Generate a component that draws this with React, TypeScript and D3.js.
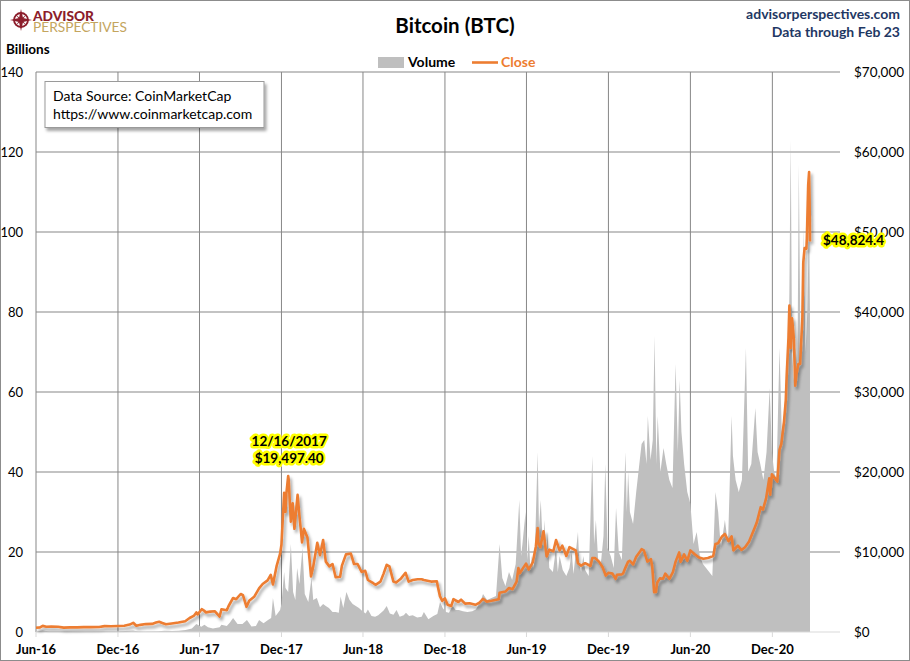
import * as d3 from "d3";

// Bitcoin close (USD) and 24h volume (billions)
const closeSeries: [string, number][] = [
  ["2016-06-01", 537], ["2016-06-10", 575], ["2016-06-16", 766], ["2016-06-24", 665], ["2016-07-05", 670],
  ["2016-07-20", 665], ["2016-08-02", 545], ["2016-08-16", 580], ["2016-09-01", 575], ["2016-09-15", 608],
  ["2016-10-01", 615], ["2016-10-20", 630], ["2016-11-01", 730], ["2016-11-15", 712], ["2016-12-01", 755],
  ["2016-12-15", 780], ["2016-12-27", 930],
  ["2017-01-04", 1150], ["2017-01-11", 780], ["2017-01-20", 895], ["2017-02-01", 990], ["2017-02-15", 1010],
  ["2017-02-24", 1180], ["2017-03-03", 1280], ["2017-03-10", 1120], ["2017-03-18", 970], ["2017-03-31", 1070],
  ["2017-04-15", 1180], ["2017-04-30", 1350], ["2017-05-10", 1750], ["2017-05-20", 2050], ["2017-05-25", 2450],
  ["2017-05-28", 2200], ["2017-06-06", 2850], ["2017-06-12", 2650], ["2017-06-15", 2450], ["2017-06-25", 2550],
  ["2017-07-05", 2600], ["2017-07-16", 1930], ["2017-07-20", 2850], ["2017-08-01", 2720], ["2017-08-05", 3250],
  ["2017-08-15", 4250], ["2017-08-22", 4100], ["2017-09-01", 4750], ["2017-09-06", 4600], ["2017-09-14", 3150],
  ["2017-09-20", 3900], ["2017-10-01", 4400], ["2017-10-12", 5450], ["2017-10-20", 6000], ["2017-10-31", 6450],
  ["2017-11-07", 7150], ["2017-11-12", 5950], ["2017-11-20", 8200], ["2017-11-28", 9800], ["2017-12-01", 10900],
  ["2017-12-07", 17400], ["2017-12-10", 15000], ["2017-12-12", 17300], ["2017-12-16", 19497.4], ["2017-12-17", 19140],
  ["2017-12-22", 13800], ["2017-12-26", 16100], ["2017-12-30", 12900],
  ["2018-01-06", 17150], ["2018-01-10", 14600], ["2018-01-16", 11200], ["2018-01-20", 12900], ["2018-01-28", 11800],
  ["2018-02-02", 8900], ["2018-02-05", 6950], ["2018-02-10", 8200], ["2018-02-19", 11150], ["2018-02-25", 9600],
  ["2018-03-04", 11500], ["2018-03-10", 8800], ["2018-03-18", 8200], ["2018-03-25", 8500], ["2018-04-01", 6850],
  ["2018-04-11", 6900], ["2018-04-15", 8300], ["2018-04-24", 9700], ["2018-05-05", 9800], ["2018-05-12", 8500],
  ["2018-05-20", 8500], ["2018-05-29", 7500], ["2018-06-06", 7650], ["2018-06-12", 6500], ["2018-06-24", 6100],
  ["2018-06-29", 5900], ["2018-07-10", 6300], ["2018-07-17", 7300], ["2018-07-24", 8400], ["2018-07-30", 8200],
  ["2018-08-08", 6300], ["2018-08-14", 6200], ["2018-08-25", 6700], ["2018-09-04", 7400], ["2018-09-11", 6300],
  ["2018-09-20", 6500], ["2018-10-01", 6600], ["2018-10-10", 6600], ["2018-10-15", 6500], ["2018-10-31", 6300],
  ["2018-11-13", 6350], ["2018-11-15", 5700], ["2018-11-20", 4450], ["2018-11-25", 3900], ["2018-12-01", 4200],
  ["2018-12-07", 3400], ["2018-12-15", 3240], ["2018-12-20", 4100], ["2018-12-31", 3750],
  ["2019-01-06", 4050], ["2019-01-15", 3550], ["2019-01-25", 3600], ["2019-02-07", 3400], ["2019-02-15", 3620],
  ["2019-02-24", 4150], ["2019-03-04", 3800], ["2019-03-15", 3900], ["2019-03-31", 4100], ["2019-04-02", 4900],
  ["2019-04-15", 5050], ["2019-04-23", 5500], ["2019-05-01", 5350], ["2019-05-10", 6300], ["2019-05-14", 8000],
  ["2019-05-17", 7350], ["2019-05-25", 8050], ["2019-05-31", 8550], ["2019-06-06", 7800], ["2019-06-15", 8700],
  ["2019-06-22", 10700], ["2019-06-26", 13000], ["2019-06-27", 11200], ["2019-07-02", 10600], ["2019-07-09", 12600],
  ["2019-07-16", 9450], ["2019-07-22", 10300], ["2019-07-31", 10100], ["2019-08-06", 11500], ["2019-08-14", 10200],
  ["2019-08-20", 10800], ["2019-08-29", 9500], ["2019-09-05", 10600], ["2019-09-19", 10200], ["2019-09-24", 8600],
  ["2019-10-01", 8300], ["2019-10-10", 8600], ["2019-10-22", 8250], ["2019-10-26", 9250], ["2019-11-01", 9250],
  ["2019-11-10", 8800], ["2019-11-18", 8100], ["2019-11-25", 7050], ["2019-12-01", 7400], ["2019-12-10", 7300],
  ["2019-12-17", 6650], ["2019-12-20", 7150], ["2019-12-31", 7200],
  ["2020-01-03", 7350], ["2020-01-08", 8050], ["2020-01-14", 8800], ["2020-01-18", 8900], ["2020-01-25", 8450],
  ["2020-02-01", 9400], ["2020-02-10", 10100], ["2020-02-13", 10350], ["2020-02-18", 10200], ["2020-02-26", 8800],
  ["2020-03-05", 9100], ["2020-03-08", 8050], ["2020-03-12", 4970], ["2020-03-16", 5000], ["2020-03-19", 6200],
  ["2020-03-25", 6700], ["2020-04-01", 6650], ["2020-04-06", 7300], ["2020-04-15", 6650], ["2020-04-23", 7500],
  ["2020-04-29", 8800], ["2020-05-07", 9950], ["2020-05-10", 8750], ["2020-05-18", 9700], ["2020-05-25", 8900],
  ["2020-06-01", 10200], ["2020-06-10", 9750], ["2020-06-20", 9300], ["2020-06-30", 9150], ["2020-07-10", 9250],
  ["2020-07-22", 9500], ["2020-07-27", 11000], ["2020-08-02", 11100], ["2020-08-10", 11900], ["2020-08-17", 12250],
  ["2020-08-25", 11350], ["2020-09-01", 11950], ["2020-09-05", 10200], ["2020-09-15", 10800], ["2020-09-23", 10250],
  ["2020-10-01", 10600], ["2020-10-10", 11300], ["2020-10-21", 12800], ["2020-10-27", 13650], ["2020-11-05", 15600],
  ["2020-11-10", 15300], ["2020-11-17", 16700], ["2020-11-24", 19200], ["2020-11-26", 17150], ["2020-11-30", 19700],
  ["2020-12-07", 19200], ["2020-12-12", 18800], ["2020-12-17", 22800], ["2020-12-21", 23500], ["2020-12-27", 26300],
  ["2020-12-31", 29000],
  ["2021-01-02", 32100], ["2021-01-06", 36800], ["2021-01-08", 40800], ["2021-01-11", 35500], ["2021-01-14", 39200],
  ["2021-01-18", 36600], ["2021-01-21", 30800], ["2021-01-24", 32300], ["2021-01-28", 33500], ["2021-02-01", 33500],
  ["2021-02-06", 39300], ["2021-02-08", 46200], ["2021-02-11", 48000], ["2021-02-15", 47900], ["2021-02-16", 49200],
  ["2021-02-19", 55900], ["2021-02-21", 57500], ["2021-02-22", 54200], ["2021-02-23", 48824.4]
];

const volumeSeries: [string, number][] = [
  ["2016-06-01", 0.1], ["2016-06-16", 0.35], ["2016-07-01", 0.12], ["2016-08-01", 0.1], ["2016-09-01", 0.08],
  ["2016-10-01", 0.07], ["2016-11-01", 0.1], ["2016-12-01", 0.1],
  ["2017-01-04", 0.35], ["2017-01-15", 0.15], ["2017-02-01", 0.12], ["2017-03-01", 0.2], ["2017-03-15", 0.3],
  ["2017-04-01", 0.25], ["2017-04-15", 0.3], ["2017-05-01", 0.5], ["2017-05-15", 0.9], ["2017-05-25", 2.0],
  ["2017-06-05", 1.3], ["2017-06-12", 1.8], ["2017-06-20", 1.2], ["2017-07-01", 0.9], ["2017-07-16", 1.2],
  ["2017-07-20", 1.8], ["2017-08-01", 1.5], ["2017-08-08", 2.4], ["2017-08-15", 3.5], ["2017-08-25", 2.0],
  ["2017-09-05", 2.0], ["2017-09-15", 3.0], ["2017-09-25", 1.4], ["2017-10-05", 1.5], ["2017-10-12", 3.0],
  ["2017-10-22", 2.2], ["2017-11-01", 3.0], ["2017-11-08", 3.5], ["2017-11-12", 8.5], ["2017-11-18", 4.0],
  ["2017-11-28", 5.5], ["2017-12-01", 7.0], ["2017-12-07", 15.0], ["2017-12-10", 11.0], ["2017-12-16", 10.0],
  ["2017-12-22", 22.0], ["2017-12-27", 10.0],
  ["2018-01-01", 8.0], ["2018-01-05", 16.0], ["2018-01-10", 12.0], ["2018-01-17", 21.0], ["2018-01-22", 9.5],
  ["2018-01-30", 7.5], ["2018-02-06", 13.5], ["2018-02-10", 8.0], ["2018-02-18", 8.5], ["2018-02-25", 6.2],
  ["2018-03-04", 7.0], ["2018-03-10", 6.5], ["2018-03-17", 6.0], ["2018-03-25", 5.0], ["2018-04-01", 5.0],
  ["2018-04-08", 4.8], ["2018-04-12", 8.9], ["2018-04-18", 6.0], ["2018-04-25", 10.0], ["2018-05-02", 8.0],
  ["2018-05-09", 7.0], ["2018-05-16", 6.5], ["2018-05-23", 6.0], ["2018-05-31", 5.2], ["2018-06-07", 4.6],
  ["2018-06-12", 5.6], ["2018-06-20", 4.0], ["2018-06-28", 3.8], ["2018-07-05", 4.2], ["2018-07-17", 5.4],
  ["2018-07-24", 6.5], ["2018-07-31", 4.6], ["2018-08-08", 4.3], ["2018-08-15", 5.5], ["2018-08-22", 3.8],
  ["2018-08-31", 4.2], ["2018-09-05", 4.8], ["2018-09-12", 4.0], ["2018-09-20", 4.2], ["2018-09-30", 3.6],
  ["2018-10-10", 3.8], ["2018-10-15", 5.0], ["2018-10-25", 3.2], ["2018-11-05", 4.0], ["2018-11-14", 4.5],
  ["2018-11-20", 7.5], ["2018-11-26", 6.0], ["2018-12-03", 5.0], ["2018-12-10", 4.8], ["2018-12-18", 6.5],
  ["2018-12-25", 5.5],
  ["2019-01-01", 5.5], ["2019-01-10", 5.2], ["2019-01-20", 5.0], ["2019-01-31", 5.2], ["2019-02-08", 5.6],
  ["2019-02-18", 7.5], ["2019-02-24", 9.5], ["2019-03-05", 8.0], ["2019-03-15", 8.5], ["2019-03-25", 9.0],
  ["2019-04-02", 22.0], ["2019-04-08", 13.5], ["2019-04-15", 11.5], ["2019-04-23", 15.0], ["2019-04-30", 13.0],
  ["2019-05-08", 17.0], ["2019-05-13", 27.0], ["2019-05-16", 33.0], ["2019-05-20", 19.0], ["2019-05-23", 22.0],
  ["2019-05-30", 30.0], ["2019-06-03", 18.0], ["2019-06-06", 24.0], ["2019-06-10", 15.5], ["2019-06-13", 19.0],
  ["2019-06-17", 16.0], ["2019-06-20", 21.0], ["2019-06-26", 45.0], ["2019-06-29", 26.0], ["2019-07-03", 33.0],
  ["2019-07-08", 20.0], ["2019-07-11", 28.0], ["2019-07-15", 19.0], ["2019-07-18", 25.0], ["2019-07-22", 16.0],
  ["2019-07-30", 15.0], ["2019-08-06", 21.0], ["2019-08-10", 15.0], ["2019-08-14", 19.0], ["2019-08-21", 15.5],
  ["2019-08-29", 14.0], ["2019-09-05", 16.0], ["2019-09-10", 20.0], ["2019-09-14", 14.5], ["2019-09-24", 25.0],
  ["2019-09-27", 17.0], ["2019-10-01", 15.0], ["2019-10-06", 19.0], ["2019-10-10", 15.5], ["2019-10-18", 14.0],
  ["2019-10-26", 44.0], ["2019-10-30", 22.0], ["2019-11-03", 28.0], ["2019-11-08", 18.0], ["2019-11-14", 17.0],
  ["2019-11-20", 24.0], ["2019-11-24", 42.0], ["2019-11-29", 21.0], ["2019-12-06", 19.0], ["2019-12-13", 16.0],
  ["2019-12-18", 31.0], ["2019-12-24", 20.0], ["2019-12-31", 18.0],
  ["2020-01-03", 28.0], ["2020-01-08", 45.0], ["2020-01-11", 30.0], ["2020-01-14", 40.0], ["2020-01-18", 30.0],
  ["2020-01-25", 27.0], ["2020-02-01", 35.0], ["2020-02-08", 42.0], ["2020-02-13", 47.0], ["2020-02-19", 48.0],
  ["2020-02-24", 42.0], ["2020-02-27", 54.0], ["2020-03-04", 43.0], ["2020-03-09", 48.0], ["2020-03-13", 74.0],
  ["2020-03-17", 42.0], ["2020-03-20", 54.0], ["2020-03-26", 40.0], ["2020-04-02", 46.0], ["2020-04-08", 42.0],
  ["2020-04-15", 38.0], ["2020-04-22", 36.0], ["2020-04-29", 67.0], ["2020-05-04", 45.0], ["2020-05-08", 63.0],
  ["2020-05-12", 50.0], ["2020-05-18", 42.0], ["2020-05-25", 35.0], ["2020-06-01", 32.0], ["2020-06-08", 22.0],
  ["2020-06-15", 25.0], ["2020-06-22", 19.0], ["2020-06-29", 17.0], ["2020-07-06", 16.0], ["2020-07-13", 15.0],
  ["2020-07-20", 14.0], ["2020-07-27", 35.0], ["2020-08-02", 30.0], ["2020-08-08", 21.0], ["2020-08-17", 28.0],
  ["2020-08-24", 22.0], ["2020-09-01", 54.0], ["2020-09-04", 44.0], ["2020-09-10", 38.0], ["2020-09-17", 35.0],
  ["2020-09-24", 38.0], ["2020-10-03", 71.0], ["2020-10-08", 40.0], ["2020-10-15", 42.0], ["2020-10-24", 56.0],
  ["2020-10-29", 45.0], ["2020-11-04", 42.0], ["2020-11-11", 38.0], ["2020-11-18", 45.0], ["2020-11-25", 61.0],
  ["2020-11-30", 45.0], ["2020-12-05", 40.0], ["2020-12-10", 38.0], ["2020-12-17", 71.0], ["2020-12-22", 50.0],
  ["2020-12-28", 55.0],
  ["2021-01-02", 67.0], ["2021-01-06", 70.0], ["2021-01-08", 85.0], ["2021-01-11", 123.0], ["2021-01-14", 70.0],
  ["2021-01-18", 63.0], ["2021-01-22", 71.0], ["2021-01-26", 65.0], ["2021-01-29", 117.0], ["2021-02-02", 68.0],
  ["2021-02-06", 72.0], ["2021-02-09", 101.0], ["2021-02-13", 70.0], ["2021-02-17", 80.0], ["2021-02-21", 104.0],
  ["2021-02-23", 80.0]
];

const leftTicks = [0, 20, 40, 60, 80, 100, 120, 140];
const rightTicks = [0, 10000, 20000, 30000, 40000, 50000, 60000, 70000];
const xTickLabels = ["Jun-16", "Dec-16", "Jun-17", "Dec-17", "Jun-18", "Dec-18", "Jun-19", "Dec-19", "Jun-20", "Dec-20"];
const peakDate = "2017-12-16";

const W = 910;
const H = 661;
const plot = { left: 36, right: 840, top: 72, bottom: 632 };
const FONT = "Lato, 'Open Sans', sans-serif";
const ORANGE = "#ED7D31";
const GRID = "#878787";

const parse = d3.timeParse("%Y-%m-%d");
const closeData = closeSeries.map(([d, v]) => ({ date: parse(d) as Date, value: v }));
const volumeData = volumeSeries.map(([d, v]) => ({ date: parse(d) as Date, value: v }));

const x = d3
  .scaleTime()
  .domain([parse("2016-06-01") as Date, parse("2021-05-01") as Date])
  .range([plot.left, plot.right]);
const yVol = d3.scaleLinear().domain([0, 140]).range([plot.bottom, plot.top]);
const yPrice = d3.scaleLinear().domain([0, 70000]).range([plot.bottom, plot.top]);

const xTickDates = xTickLabels.map((_, i) => d3.timeMonth.offset(parse("2016-06-01") as Date, i * 6));

const fmtDollar = (v: number) => `$${d3.format(",")(v)}`;

export default function App() {
  const volumeArea = d3
    .area<{ date: Date; value: number }>()
    .x((d) => x(d.date))
    .y0(yVol(0))
    .y1((d) => yVol(d.value))(volumeData);

  const closeLine = d3
    .line<{ date: Date; value: number }>()
    .x((d) => x(d.date))
    .y((d) => yPrice(d.value))(closeData);

  const peak = closeData.find((d) => d3.timeFormat("%Y-%m-%d")(d.date) === peakDate) ?? closeData[0];
  const last = closeData[closeData.length - 1];

  return (
    <svg
      width={W}
      height={H}
      style={{ position: "fixed", left: 0, top: 0, background: "#fff" }}
      fontFamily={FONT}
    >
      <defs>
        <filter id="shadow" filterUnits="userSpaceOnUse" x={0} y={0} width={W} height={H}>
          <feDropShadow dx={2} dy={3} stdDeviation={1.6} floodColor="#000" floodOpacity={0.35} />
        </filter>
      </defs>
      <rect x={0.5} y={0.5} width={W - 1} height={H - 1} fill="#fff" stroke="#8c8c8c" />

      {/* gridlines */}
      {leftTicks.slice(1).map((t) => (
        <line key={`h${t}`} x1={plot.left} x2={plot.right} y1={yVol(t)} y2={yVol(t)} stroke={GRID} strokeWidth={1} />
      ))}
      {xTickDates.map((d, i) => (
        <line key={`v${i}`} x1={x(d)} x2={x(d)} y1={plot.top} y2={plot.bottom} stroke={GRID} strokeWidth={1} />
      ))}

      {/* volume */}
      <path d={volumeArea ?? ""} fill="#BFBFBF" />

      {/* axis baseline and ticks */}
      <line x1={plot.left} x2={plot.right} y1={plot.bottom} y2={plot.bottom} stroke="#D9D9D9" strokeWidth={1} />
      {xTickDates.map((d, i) => (
        <line key={`t${i}`} x1={x(d)} x2={x(d)} y1={plot.bottom} y2={plot.bottom + 5} stroke="#D9D9D9" />
      ))}

      {/* close */}
      <path
        d={closeLine ?? ""}
        fill="none"
        stroke={ORANGE}
        strokeWidth={2.6}
        strokeLinejoin="round"
        filter="url(#shadow)"
      />

      {/* left axis labels */}
      {leftTicks.map((t) => (
        <text key={`l${t}`} x={23} y={yVol(t)} dy="0.35em" textAnchor="end" fontSize={13} fill="#000">
          {t}
        </text>
      ))}
      {/* right axis labels */}
      {rightTicks.map((t) => (
        <text key={`r${t}`} x={854} y={yPrice(t)} dy="0.35em" fontSize={13.5} fill="#000">
          {fmtDollar(t)}
        </text>
      ))}
      {/* bottom labels */}
      {xTickDates.map((d, i) => (
        <text key={`b${i}`} x={x(d)} y={654} textAnchor="middle" fontSize={13} fontWeight={700} fill="#000">
          {xTickLabels[i]}
        </text>
      ))}

      {/* annotations */}
      <g fontSize={13.5} fontWeight={700} fill="#000" stroke="#FFFF00" strokeWidth={5} strokeLinejoin="round" style={{ paintOrder: "stroke" }}>
        <text x={x(peak.date) + 1} y={446} textAnchor="middle">
          {d3.timeFormat("%m/%d/%Y")(peak.date)}
        </text>
        <text x={x(peak.date) + 1} y={463} textAnchor="middle">
          {`$${d3.format(",.2f")(peak.value)}`}
        </text>
        <text x={x(last.date) + 13} y={yPrice(last.value) + 4}>
          {`$${d3.format(",")(last.value)}`}
        </text>
      </g>

      {/* title, legend */}
      <text x={455} y={33} textAnchor="middle" fontSize={20.5} fontWeight={700} fill="#000">
        Bitcoin (BTC)
      </text>
      <rect x={378} y={57} width={26} height={11} fill="#BFBFBF" />
      <text x={408} y={67} fontSize={14} fontWeight={700} fill="#000">
        Volume
      </text>
      <line x1={472} x2={498} y1={62.5} y2={62.5} stroke={ORANGE} strokeWidth={2.6} />
      <text x={501} y={67} fontSize={14} fontWeight={700} fill={ORANGE}>
        Close
      </text>

      <text x={6} y={54} fontSize={13.5} fontWeight={700} fill="#000">
        Billions
      </text>

      <text x={900} y={19} textAnchor="end" fontSize={14} fontWeight={700} fill="#1F3864">
        advisorperspectives.com
      </text>
      <text x={900} y={37} textAnchor="end" fontSize={14} fontWeight={700} fill="#1F3864">
        Data through Feb 23
      </text>

      {/* logo */}
      <g>
        <circle cx={21} cy={20} r={7} fill="none" stroke="#8C1D2B" strokeWidth={1.8} />
        <path d="M21,9 L23,18 L32,20 L23,22 L21,31 L19,22 L10,20 L19,18 Z" fill="#8C1D2B" />
        <path d="M15,14 L21,19 L27,14 L22,20 L27,26 L21,21 L15,26 L20,20 Z" fill="#8C1D2B" />
        <text x={33} y={21} fontSize={13} fontWeight={900} fill="#8C1D2B" textLength={61} lengthAdjust="spacingAndGlyphs">
          ADVISOR
        </text>
        <text x={33} y={32} fontSize={12.5} fontWeight={400} fill="#C4A55E" textLength={94} lengthAdjust="spacingAndGlyphs">
          PERSPECTIVES
        </text>
      </g>

      {/* data source box */}
      <rect x={45} y={81.5} width={219} height={46} fill="#fff" stroke="#9a9a9a" filter="url(#shadow)" />
      <text x={53} y={101} fontSize={14} fill="#000">
        Data Source: CoinMarketCap
      </text>
      <text x={53} y={119} fontSize={14} fill="#000">
        https://www.coinmarketcap.com
      </text>
    </svg>
  );
}
